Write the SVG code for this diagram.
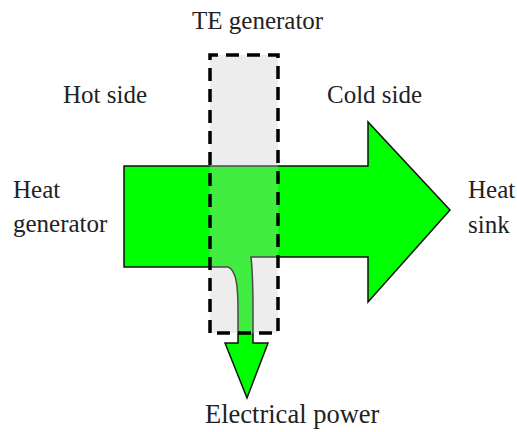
<svg xmlns="http://www.w3.org/2000/svg" width="517" height="432" viewBox="0 0 517 432">
<style>
text{font-family:"Liberation Serif","Times New Roman",serif;font-size:25px;fill:#222}
.flow{fill:#00ff00;stroke:#111;stroke-width:1.5;stroke-linejoin:miter}
.box{fill:#c8c8c8;fill-opacity:0.32;stroke:none}
.dash{fill:none;stroke:#000;stroke-width:3.5;stroke-dasharray:13 8}
</style>
<rect width="517" height="432" fill="#fff"/>
<g id="connectors">
<path id="heat-flow" class="flow" d="M124,166 L368,166 L368,122 L450,210 L368,302 L368,257 L251,257 C253,275 253,290 253,310 L253,343 L268,343 L247,398 L225,343 L238,343 L238,310 C238,290 237,270 228,267 L124,267 Z"/>
</g>
<g id="te-generator">
<rect class="box" x="210" y="55" width="68" height="278"/>
<path class="dash" d="M210,333 L210,55 L278,55 L278,333 L210,333"/>
<text x="192" y="29">TE generator</text>
</g>
<g id="hot-side"><text x="63" y="103">Hot side</text></g>
<g id="cold-side"><text x="327" y="103">Cold side</text></g>
<g id="heat-generator"><text x="13" y="198">Heat</text><text x="13" y="232">generator</text></g>
<g id="heat-sink"><text x="468" y="198">Heat</text><text x="468" y="233">sink</text></g>
<g id="electrical-power"><text x="205" y="423" style="font-size:26.5px">Electrical power</text></g>
</svg>
